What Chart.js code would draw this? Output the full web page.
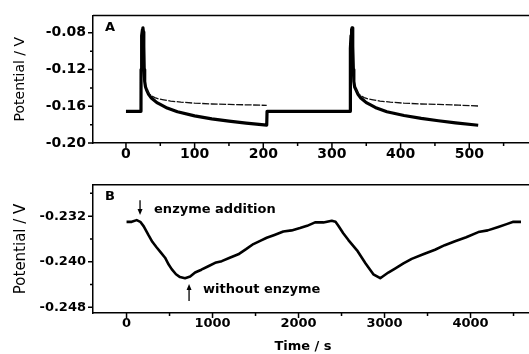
<!DOCTYPE html>
<html>
<head>
<meta charset="utf-8">
<script src="https://cdn.jsdelivr.net/npm/chart.js@4.4.0/dist/chart.umd.min.js"></script>
<style>
  html, body { margin: 0; padding: 0; background: #fff; }
  #wrapA { position: absolute; left: 0; top: 0; width: 529px; height: 170px; }
  #wrapB { position: absolute; left: 0; top: 170px; width: 529px; height: 184px; }
</style>
</head>
<body>
<div id="wrapA"><canvas id="chartA"></canvas></div>
<div id="wrapB"><canvas id="chartB"></canvas></div>
<script>
// panel A - potential transients (time in s, potential in V)
var timeA_thick = [0, 21.9, 22.0, 22.5, 23.2, 24.0, 24.7, 25.4, 26.0, 26.6, 27.3, 28.5, 30, 33, 37, 41, 45, 50, 60, 75, 100, 125, 150, 175, 205, 205.5,
                   326.5, 326.6, 327.1, 327.8, 328.6, 329.3, 330.0, 330.6, 331.2, 331.9, 333.1, 335, 338, 342, 346, 350, 355, 365, 380, 405, 430, 455, 480, 513];
var potA_thick = [-0.1655, -0.1655, -0.120, -0.097, -0.083, -0.0765, -0.0745, -0.079, -0.095, -0.120, -0.133, -0.139, -0.142, -0.147, -0.151, -0.1535, -0.156, -0.158, -0.162, -0.166, -0.1705, -0.1738, -0.1762, -0.1783, -0.1805, -0.1655,
                  -0.1655, -0.120, -0.097, -0.083, -0.0765, -0.0745, -0.079, -0.095, -0.120, -0.133, -0.139, -0.142, -0.147, -0.151, -0.1535, -0.156, -0.158, -0.162, -0.166, -0.170, -0.1732, -0.1758, -0.178, -0.1807];

var timeA_thin = [30, 34, 38, 42, 48, 55, 65, 80, 100, 125, 150, 180, 205, 260,
                  335, 339, 343, 347, 353, 360, 370, 385, 405, 430, 455, 485, 513];
var potA_thin = [-0.142, -0.1465, -0.149, -0.1505, -0.152, -0.153, -0.1543, -0.1555, -0.1566, -0.1575, -0.158, -0.1585, -0.159, null,
                 -0.142, -0.1465, -0.149, -0.1505, -0.152, -0.153, -0.1543, -0.1555, -0.1566, -0.1575, -0.158, -0.1588, -0.1597];

// panel B - long run with enzyme addition
var timeB = [0, 60, 118, 160, 200, 254, 300, 351, 400, 448, 490, 525, 575, 622, 680, 740, 797, 870, 951, 1030, 1107, 1200, 1300, 1390, 1475,
             1560, 1630, 1720, 1823, 1920, 2017, 2100, 2192, 2290, 2386, 2430, 2463, 2520, 2580, 2680, 2780, 2870, 2950, 3044, 3122,
             3220, 3316, 3450, 3587, 3700, 3820, 3950, 4091, 4200, 4323, 4420, 4498, 4587];
var potB = [-0.2330, -0.2330, -0.2327, -0.2330, -0.2338, -0.2353, -0.2365, -0.2375, -0.2384, -0.2393, -0.2405, -0.2413, -0.2422, -0.2427, -0.2429,
            -0.2426, -0.2419, -0.2414, -0.2408, -0.2402, -0.2399, -0.2393, -0.2387, -0.2378, -0.2369, -0.2363, -0.2358, -0.2353, -0.2347,
            -0.2345, -0.2341, -0.2337, -0.2331, -0.2331, -0.2328, -0.2330, -0.2337, -0.2350, -0.2362, -0.2380, -0.2403, -0.2422, -0.2429,
            -0.2419, -0.2412, -0.2403, -0.2395, -0.2387, -0.2379, -0.2371, -0.2364, -0.2357, -0.2348, -0.2345, -0.2339, -0.2334, -0.2330, -0.2330];

// tick values
var xMajorA = [0, 100, 200, 300, 400, 500];
var xMinorA = [50, 150, 250, 350, 450, 550];
var yMajorA = [-0.20, -0.16, -0.12, -0.08];
var yMinorA = [-0.18, -0.14, -0.10];
var xMajorB = [0, 1000, 2000, 3000, 4000];
var xMinorB = [500, 1500, 2500, 3500, 4500];
var yMajorB = [-0.248, -0.240, -0.232];
var yMinorB = [-0.244, -0.236, -0.228];

// annotations of panel B
var notesB = [{ text: 'enzyme addition', t: 320, v: -0.2308 }, { text: 'without enzyme', t: 890, v: -0.2449 }];
var arrowsB = [{ t: 157, from: -0.2292, to: -0.2318 }, { t: 727, from: -0.2469, to: -0.2439 }];

Chart.defaults.font.family = '"DejaVu Sans", sans-serif';
Chart.defaults.color = '#000';

function pts(xs, ys) {
    return xs.map(function (x, i) { return { x: x, y: ys[i] }; });
}

function frame(label, xMaj, xMin, yMaj, yMin, extra) {
    return {
        id: 'frame' + label,
        afterDraw: function (chart) {
            var ctx = chart.ctx, a = chart.chartArea;
            var xs = chart.scales.x, ys = chart.scales.y;
            ctx.save();
            ctx.strokeStyle = '#000';
            ctx.lineWidth = 1.5;
            ctx.beginPath();
            ctx.moveTo(a.left, a.top); ctx.lineTo(a.right + 2, a.top);
            xMaj.forEach(function (v) { var p = xs.getPixelForValue(v); ctx.moveTo(p, a.bottom); ctx.lineTo(p, a.bottom + 5); });
            xMin.forEach(function (v) { var p = xs.getPixelForValue(v); ctx.moveTo(p, a.bottom); ctx.lineTo(p, a.bottom + 3); });
            yMaj.forEach(function (v) { var p = ys.getPixelForValue(v); ctx.moveTo(a.left, p); ctx.lineTo(a.left - 5, p); });
            yMin.forEach(function (v) { var p = ys.getPixelForValue(v); ctx.moveTo(a.left, p); ctx.lineTo(a.left - 3, p); });
            ctx.stroke();
            ctx.fillStyle = '#000';
            ctx.font = 'bold 13px "DejaVu Sans"';
            ctx.textAlign = 'center';
            ctx.textBaseline = 'middle';
            ctx.fillText(label, a.left + 17, a.top + 12);
            if (extra) extra(chart, ctx, xs, ys);
            ctx.restore();
        }
    };
}

function axes(xMin, xMax, yMin, yMax, xMaj, yMaj, xFmt, yFmt, xHeight, fontSize, titleSize) {
    return {
        x: {
            type: 'linear', min: xMin, max: xMax,
            grid: { display: false, drawTicks: false },
            border: { display: true, color: '#000', width: 1.5 },
            afterBuildTicks: function (s) { s.ticks = xMaj.map(function (v) { return { value: v }; }); },
            afterFit: function (s) { s.height = xHeight; },
            ticks: { autoSkip: false, maxRotation: 0, padding: 3, font: { size: fontSize, weight: 'bold' },
                     callback: function (v) { return xFmt(v); } }
        },
        y: {
            type: 'linear', min: yMin, max: yMax,
            grid: { display: false, drawTicks: false },
            border: { display: true, color: '#000', width: 1.5 },
            afterBuildTicks: function (s) { s.ticks = yMaj.map(function (v) { return { value: v }; }); },
            afterFit: function (s) { s.width = 93; },
            ticks: { autoSkip: false, padding: 7, font: { size: fontSize, weight: 'bold' },
                     callback: function (v) { return yFmt(v); } },
            title: { display: true, text: 'Potential / V', font: { size: titleSize }, padding: { top: 12, bottom: 0 } }
        }
    };
}

new Chart(document.getElementById('chartA'), {
    type: 'line',
    data: {
        datasets: [{
            data: pts(timeA_thin, potA_thin),
            borderColor: '#111', borderWidth: 1.3, borderDash: [7, 1.5],
            pointRadius: 0, spanGaps: false, tension: 0
        }, {
            data: pts(timeA_thick, potA_thick),
            borderColor: '#000', borderWidth: 3.2, borderJoinStyle: 'round',
            pointRadius: 0, tension: 0
        }]
    },
    options: {
        responsive: true,
        maintainAspectRatio: false,
        animation: false,
        layout: { padding: { top: 11, left: 0, right: 0, bottom: 0 } },
        plugins: { legend: { display: false }, tooltip: { enabled: false } },
        scales: axes(-48, 587, -0.20, -0.061, xMajorA, yMajorA,
                     function (v) { return String(v); }, function (v) { return v.toFixed(2); }, 27, 14, 14)
    },
    plugins: [frame('A', xMajorA, xMinorA, yMajorA, yMinorA)]
});

new Chart(document.getElementById('chartB'), {
    type: 'line',
    data: {
        datasets: [{
            data: pts(timeB, potB),
            borderColor: '#000', borderWidth: 2.6, borderJoinStyle: 'round',
            pointRadius: 0, tension: 0
        }]
    },
    options: {
        responsive: true,
        maintainAspectRatio: false,
        animation: false,
        layout: { padding: { top: 12, left: 0, right: 0, bottom: 0 } },
        plugins: { legend: { display: false }, tooltip: { enabled: false } },
        scales: axes(-390, 4680, -0.249, -0.2265, xMajorB, yMajorB,
                     function (v) { return String(v); }, function (v) { return v.toFixed(3); }, 41, 13, 15)
    },
    plugins: [frame('B', xMajorB, xMinorB, yMajorB, yMinorB, function (chart, ctx, xs, ys) {
        ctx.textAlign = 'left';
        notesB.forEach(function (n) {
            ctx.fillText(n.text, xs.getPixelForValue(n.t), ys.getPixelForValue(n.v));
        });
        ctx.lineWidth = 1.3;
        arrowsB.forEach(function (ar) {
            var x = xs.getPixelForValue(ar.t), y0 = ys.getPixelForValue(ar.from), y1 = ys.getPixelForValue(ar.to);
            var dir = y1 > y0 ? 1 : -1;
            ctx.beginPath();
            ctx.moveTo(x, y0); ctx.lineTo(x, y1 - dir * 4);
            ctx.stroke();
            ctx.beginPath();
            ctx.moveTo(x, y1); ctx.lineTo(x - 2.5, y1 - dir * 6); ctx.lineTo(x + 2.5, y1 - dir * 6);
            ctx.closePath();
            ctx.fill();
        });
        // axis title, centred like the original
        ctx.textAlign = 'center';
        ctx.font = 'bold 13px "DejaVu Sans"';
        ctx.fillText('Time / s', 303, chart.height - 7);
    })]
});
</script>
</body>
</html>
